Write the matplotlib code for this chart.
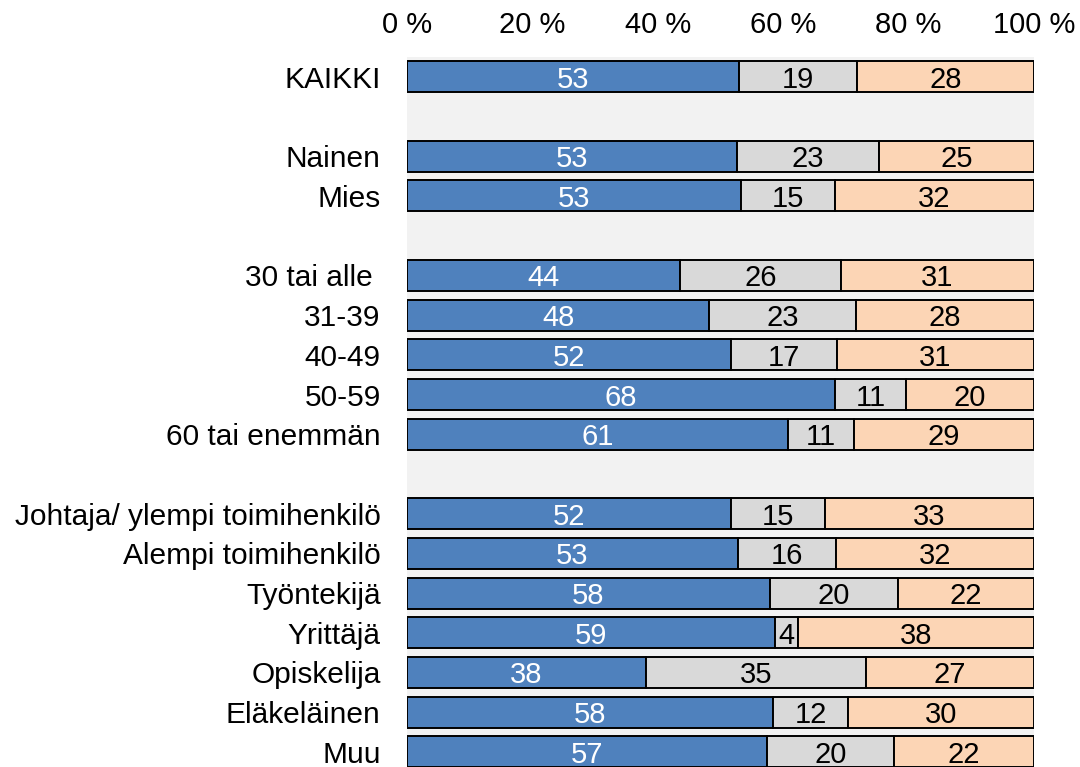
import matplotlib
matplotlib.use('Agg')
import matplotlib.pyplot as plt
from matplotlib.ticker import FixedLocator, FuncFormatter

plt.rcParams['font.family'] = ['Liberation Sans', 'DejaVu Sans']

categories = ["KAIKKI",
              "Nainen", "Mies",
              "30 tai alle ", "31-39", "40-49", "50-59", "60 tai enemmän",
              "Johtaja/ ylempi toimihenkilö", "Alempi toimihenkilö", "Työntekijä",
              "Yrittäjä", "Opiskelija", "Eläkeläinen", "Muu"]
group_sizes = [1, 2, 5, 7]

blue = [52.9, 52.6, 53.3, 43.6, 48.2, 51.6, 68.3, 60.7, 51.7, 52.8, 57.9, 58.7, 38.1, 58.4, 57.4]
grey = [18.8, 22.6, 14.9, 25.6, 23.4, 17.0, 11.3, 10.6, 15.0, 15.6, 20.4, 3.7, 35.1, 12.0, 20.2]
peach = [28.3, 24.8, 31.8, 30.8, 28.4, 31.4, 20.4, 28.7, 33.3, 31.6, 21.7, 37.6, 26.8, 29.6, 22.4]

tick_values = [0, 20, 40, 60, 80, 100]

# slot positions with one empty slot between groups
ypos = []
slot = 0
for g in group_sizes:
    for _ in range(g):
        ypos.append(slot)
        slot += 1
    slot += 1

fig = plt.figure(figsize=(10.8, 7.67), dpi=100)
ax = fig.add_axes([407/1080, 0, 627/1080, 710/767])
ax.set_facecolor('#F2F2F2')

h = 0.78
lw = 1.4
b1 = ax.barh(ypos, blue, height=h, color='#4F81BD', edgecolor='black', linewidth=lw)
left2 = blue
b2 = ax.barh(ypos, grey, left=left2, height=h, color='#D9D9D9', edgecolor='black', linewidth=lw)
left3 = [a + b for a, b in zip(blue, grey)]
b3 = ax.barh(ypos, peach, left=left3, height=h, color='#FCD5B5', edgecolor='black', linewidth=lw)

for bars, col in ((b1, 'white'), (b2, 'black'), (b3, 'black')):
    texts = ax.bar_label(bars, fmt='%.0f', label_type='center', color=col, fontsize=21)
    for t in texts:
        t.set_va('center_baseline')

ax.set_xlim(0, 100)
ax.set_ylim(17.38, -0.5)
ax.xaxis.tick_top()
ax.xaxis.set_major_locator(FixedLocator(tick_values))
ax.xaxis.set_major_formatter(FuncFormatter(lambda v, p: f"{v:.0f} %"))
ax.tick_params(axis='x', length=0, pad=13, labelsize=21)
ax.set_yticks(ypos)
ax.set_yticklabels(categories)
ax.tick_params(axis='y', length=0, pad=19, labelsize=21.5)
for s in ax.spines.values():
    s.set_visible(False)

fig.savefig('out.png', dpi=100)
